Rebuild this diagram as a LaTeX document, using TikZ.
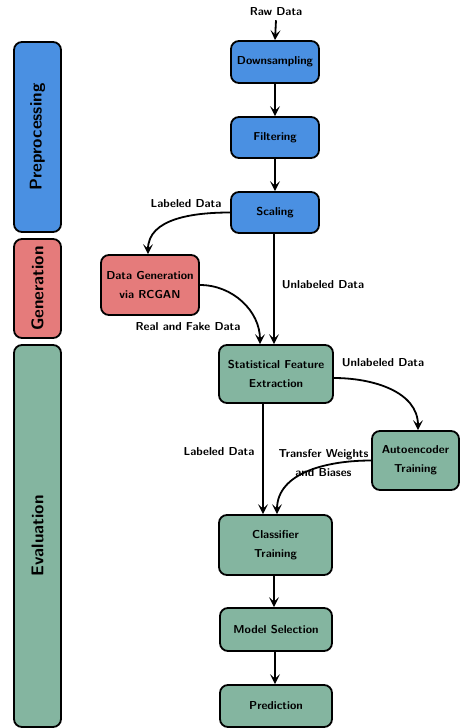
\documentclass[tikz,border=0pt]{standalone}
\usetikzlibrary{arrows.meta}
\definecolor{cblue}{RGB}{74,144,226}
\definecolor{cred}{RGB}{229,123,123}
\definecolor{cgreen}{RGB}{132,181,160}
\begin{document}
\begin{tikzpicture}[x=1pt,y=-1pt,
  every node/.style={font=\fontsize{11.5}{19}\selectfont\sffamily\bfseries, inner sep=0pt},
  box/.style={draw, line width=1.8pt, rounded corners=8pt, align=center},
  bar/.style={draw, line width=1.8pt, rounded corners=8pt, minimum width=47pt, font=\fontsize{17}{20}\selectfont\sffamily\bfseries},
  lbl/.style={align=center},
  conn/.style={line width=1.8pt, -{Stealth[length=10pt,width=10pt,inset=4.5pt]}}
]
\useasboundingbox (0,0) rectangle (460,728);
% side bars
\node[bar, fill=cblue, minimum height=190pt] (pre) at (37.5,137) {\rotatebox{90}{Preprocessing}};
\node[bar, fill=cred, minimum height=99pt] (gen) at (37.5,288.5) {\rotatebox{90}{Generation}};
\node[bar, fill=cgreen, minimum height=382pt] (eva) at (37.5,536) {\rotatebox{90}{Evaluation}};
% main nodes
\node[lbl] (raw) at (276,12) {Raw Data};
\node[box, fill=cblue, minimum width=88pt, minimum height=42pt] (down) at (275,62) {Downsampling};
\node[box, fill=cblue, minimum width=88pt, minimum height=41pt] (filt) at (275,137.5) {Filtering};
\node[box, fill=cblue, minimum width=88pt, minimum height=41pt] (scal) at (275,212.5) {Scaling};
\node[box, fill=cred, minimum width=98pt, minimum height=60pt] (gan) at (150,285) {Data Generation\\via RCGAN};
\node[box, fill=cgreen, minimum width=114pt, minimum height=58pt] (sfe) at (276,374) {Statistical Feature\\Extraction};
\node[box, fill=cgreen, minimum width=87pt, minimum height=59pt] (ae) at (415.5,460.5) {Autoencoder\\Training};
\node[box, fill=cgreen, minimum width=113pt, minimum height=60pt] (cls) at (275.5,545) {Classifier\\Training};
\node[box, fill=cgreen, minimum width=112pt, minimum height=43pt] (ms) at (276,629.5) {Model Selection};
\node[box, fill=cgreen, minimum width=112pt, minimum height=42pt] (pred) at (276,706) {Prediction};
% labels
\node[lbl] (l1) at (186,204) {Labeled Data};
\node[lbl] (l2) at (323,285) {Unlabeled Data};
\node[lbl] (l3) at (188,327) {Real and Fake Data};
\node[lbl] (l4) at (383,363) {Unlabeled Data};
\node[lbl] (l5) at (219,452) {Labeled Data};
\node[lbl] (l6) at (323.5,463) {Transfer Weights\\and Biases};
% connectors
\draw[conn] ([yshift=-4pt]raw.south) -- (down.north);
\draw[conn] (down) -- (filt);
\draw[conn] (filt) -- (scal);
\draw[conn] (scal.west) to[out=180,in=90] ([xshift=-2pt]gan.north);
\draw[conn] ([xshift=-1pt]scal.south) -- ([xshift=-1pt]scal.south |- sfe.north);
\draw[conn] (gan.east) to[out=0,in=90] ([xshift=-16pt]sfe.north);
\draw[conn] ([yshift=-4pt]sfe.east) to[out=0,in=90] ([xshift=2.5pt]ae.north);
\draw[conn] ([xshift=-13pt]sfe.south) -- ([xshift=-13pt]sfe.south |- cls.north);
\draw[conn] (ae.west) to[out=180,in=90] ([xshift=1.5pt]cls.north);
\draw[conn] ([xshift=-1.5pt]cls.south) -- ([xshift=-1.5pt]cls.south |- ms.north);
\draw[conn] ([xshift=-1pt]ms.south) -- ([xshift=-1pt]ms.south |- pred.north);
\end{tikzpicture}
\end{document}
